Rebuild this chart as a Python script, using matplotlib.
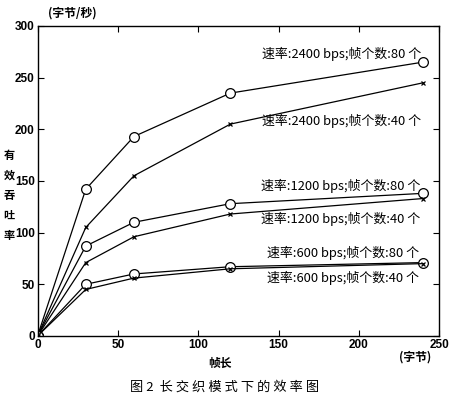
import matplotlib
matplotlib.use("Agg")
import matplotlib.pyplot as plt

plt.rcParams['font.family'] = ['Noto Sans CJK SC', 'DejaVu Sans']

# frame length (bytes)
frame_len = [0, 30, 60, 120, 240]

# effective throughput (bytes/s)
r2400_f80 = [0, 142, 193, 235, 265]
r2400_f40 = [0, 105, 155, 205, 245]
r1200_f80 = [0, 87, 110, 128, 138]
r1200_f40 = [0, 71, 96, 118, 133]
r600_f80 = [0, 50, 60, 67, 71]
r600_f40 = [0, 45, 56, 65, 70]

labels = ["速率:2400 bps;帧个数:80 个", "速率:2400 bps;帧个数:40 个",
          "速率:1200 bps;帧个数:80 个", "速率:1200 bps;帧个数:40 个",
          "速率:600 bps;帧个数:80 个", "速率:600 bps;帧个数:40 个"]
label_x = [140, 140, 139, 139, 143, 143]
label_y = [273, 208, 145, 113, 80, 56]

x_ticks = [0, 50, 100, 150, 200, 250]
y_ticks = [0, 50, 100, 150, 200, 250, 300]

fig = plt.figure(figsize=(4.58, 3.99), dpi=100)
ax = fig.add_axes([0.082, 0.158, 0.877, 0.777])

series = [(r2400_f80, 'o'), (r2400_f40, 'x'), (r1200_f80, 'o'),
          (r1200_f40, 'x'), (r600_f80, 'o'), (r600_f40, 'x')]
for vals, m in series:
    if m == 'o':
        ax.plot(frame_len, vals, color='black', lw=0.9, marker='o', ms=7,
                mfc='white', mec='black', mew=0.9)
    else:
        ax.plot(frame_len, vals, color='black', lw=0.9, marker='x', ms=3.5,
                mew=0.9)

for txt, tx, ty in zip(labels, label_x, label_y):
    ax.text(tx, ty, txt, fontsize=9.3, va='center', ha='left')

ax.set_xlim(0, 250)
ax.set_ylim(0, 300)
ax.set_xticks(x_ticks)
ax.set_yticks(y_ticks)
ax.tick_params(direction='in', top=True, right=True, length=4, width=0.8,
               labelsize=8.5, pad=2)
for lbl in ax.get_xticklabels() + ax.get_yticklabels():
    lbl.set_fontfamily('Liberation Sans')
    lbl.set_fontweight('bold')
for s in ax.spines.values():
    s.set_linewidth(1.0)

# axis titles placed like in the scanned figure
fig.text(72 / 458, 1 - 13 / 399, "(字节/秒)", fontsize=8.5, ha='center', va='center',
         fontweight='bold')
fig.text(9 / 458, 1 - 195 / 399, "有\n效\n吞\n吐\n率", fontsize=8, ha='center',
         va='center', linespacing=1.7, fontweight='bold')
fig.text(220 / 458, 1 - 363 / 399, "帧长", fontsize=8.5, ha='center', va='center',
         fontweight='bold')
fig.text(415 / 458, 1 - 357 / 399, "(字节)", fontsize=8.5, ha='center', va='center',
         fontweight='bold')
fig.text(225 / 458, 1 - 387 / 399, "图 2  长 交 织 模 式 下 的 效 率 图", fontsize=9.5,
         ha='center', va='center')

fig.savefig("out.png", dpi=100)
